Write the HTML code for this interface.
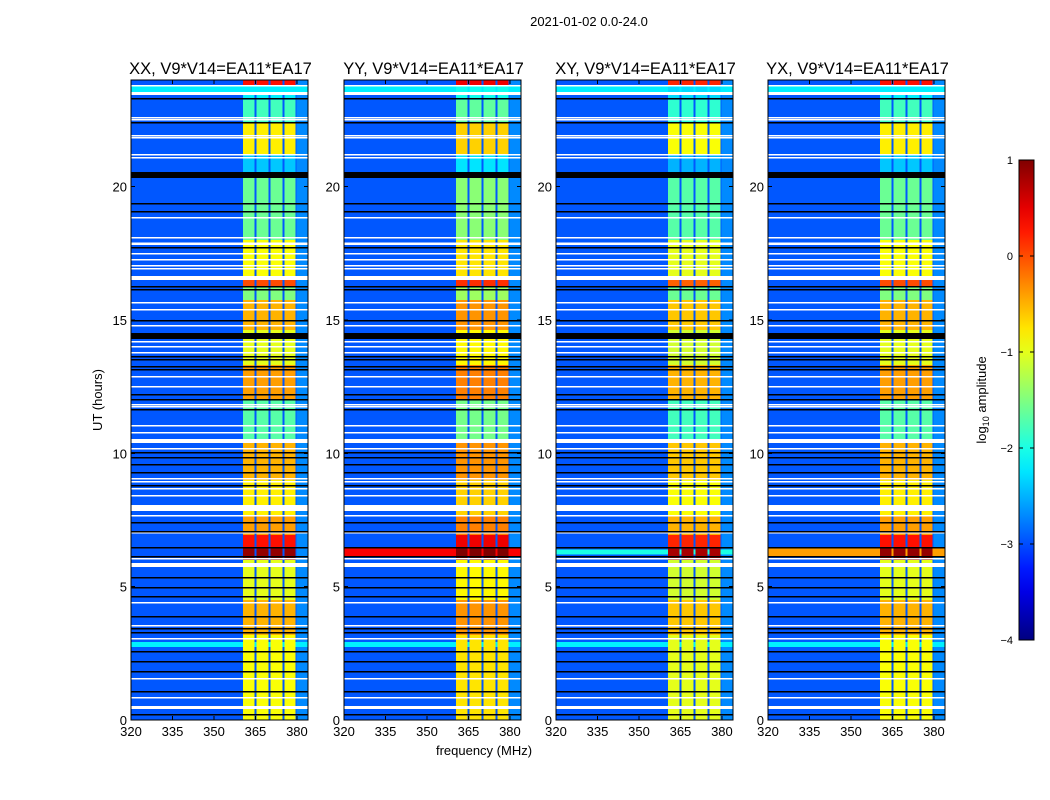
<!DOCTYPE html>
<html><head><meta charset="utf-8">
<style>
body{margin:0;background:#fff;font-family:"Liberation Sans",sans-serif;}
#wrap{position:relative;width:1050px;height:800px;overflow:hidden;}
</style></head>
<body>
<div id="wrap">
<svg id="svg" width="1050" height="800" xmlns="http://www.w3.org/2000/svg" font-family="Liberation Sans, sans-serif" shape-rendering="crispEdges"></svg>
</div>
<script>
const panelTitles=["XX, V9*V14=EA11*EA17","YY, V9*V14=EA11*EA17","XY, V9*V14=EA11*EA17","YX, V9*V14=EA11*EA17"];
const panelLefts=[131,344,556,768];
const panelOffset=[0,0.15,-0.1,0];
const freqTicks=[320,335,350,365,380];
const timeTicks=[0,5,10,15,20];
const cbTicks=[1,0,-1,-2,-3,-4];
const bandEdges=[360.5,365.0,370.1,375.2,379.9];
const background=-2.95;
const segStart=[23.77,23.25,22.42,21.19,20.55,18,16.65,16.24,15.75,14.62,13.31,12,10.5,9,7.69,6.94,6.45,6,4.5,3.19,0];
const segEnd=[24,23.77,23.25,22.42,21.19,20.55,18,16.65,16.24,15.75,14.62,13.31,12,10.5,9,7.69,6.94,6.45,6,4.5,3.19];
const segLevel=[0.3,-2.2,-1.8,-0.8,-2.4,-1.6,-0.9,0.0,-1.5,-0.5,-1.0,-0.4,-1.7,-0.5,-0.8,-0.4,0.3,0.9,-1.0,-0.5,-0.9];
const broadStart=[[23.5,2.74],[23.5,2.74,6.1],[23.5,2.74,6.2],[23.5,2.74,6.15]];
const broadEnd=[[23.75,2.92],[23.75,2.92,6.45],[23.75,2.92,6.4],[23.75,2.92,6.45]];
const broadLevel=[[-2.2,-2.2],[-2.2,-2.2,0.4],[-2.2,-2.2,-2.0],[-2.2,-2.2,-0.4]];
const whiteThin=[23.77,22.57,22.5,21.9,21.82,21.19,21.07,18.82,18.07,17.47,17.25,17.02,16.91,15.64,15.37,14.77,14.17,13.99,13.76,12.86,12.49,11.81,11.74,11.02,10.76,10.16,9.04,8.92,8.66,8.4,7.65,7.01,6.04,4.39,3.52,3.04,1.54,0.82];
const whiteThickStart=[23.44,17.82,16.5,10.39,7.84,5.74,0.41];
const whiteThickEnd=[23.55,17.9,16.65,10.54,8.06,5.89,0.52];
const blackThin=[23.29,22.39,19.35,19.05,17.7,16.24,16.12,14.96,13.61,13.5,13.24,13.12,12.19,12.0,11.62,10.01,9.82,9.56,9.26,8.77,7.39,7.05,6.45,6.11,5.32,4.95,4.61,3.86,3.41,3.26,2.55,2.17,1.8,1.05,0.19];
const blackThickStart=[20.33,14.29];
const blackThickEnd=[20.55,14.51];

const NS="http://www.w3.org/2000/svg";
const svg=document.getElementById('svg');
const PW=177,PT=80,PB=720,F0=320,F1=384,T0=0,T1=24;
function fx(f,left){return left+(f-F0)/(F1-F0)*PW;}
function ty(t){return PB-(t-T0)/(T1-T0)*(PB-PT);}
function jet(v){let x=(v+4)/5;x=Math.max(0,Math.min(1,x));
 const c=(a)=>Math.round(255*Math.max(0,Math.min(1,a)));
 return `rgb(${c(1.5-Math.abs(4*x-3))},${c(1.5-Math.abs(4*x-2))},${c(1.5-Math.abs(4*x-1))})`;}
function el(tag,attrs,parent){const e=document.createElementNS(NS,tag);for(const k in attrs)e.setAttribute(k,attrs[k]);(parent||svg).appendChild(e);return e;}
function txt(s,attrs,parent){const e=el('text',attrs,parent);e.textContent=s;return e;}

const sup=txt('2021-01-02 0.0-24.0',{x:589,y:26,'font-size':13,'text-anchor':'middle'});



panelLefts.forEach((L,p)=>{
 const g=el('g',{});
 
 
 el('rect',{x:L,y:PT,width:PW,height:PB-PT,fill:jet(background)},g);
 el('rect',{x:fx(bandEdges[4],L),y:PT,width:L+PW-fx(bandEdges[4],L),height:PB-PT,fill:jet(-2.7)},g);
 broadStart[p].forEach((s,i)=>{
  const r=el('rect',{x:L,y:ty(broadEnd[p][i]),width:PW,height:ty(s)-ty(broadEnd[p][i]),fill:jet(broadLevel[p][i])},g);
  
  
 });
 segStart.forEach((s,i)=>{
  for(let b=0;b<4;b++){
   const x0=fx(bandEdges[b],L)+(b?1:0),x1=fx(bandEdges[b+1],L)-1;
   const r=el('rect',{x:x0,y:ty(segEnd[i]),width:x1-x0,height:ty(s)-ty(segEnd[i]),fill:jet(segLevel[i]+panelOffset[p])},g);
   
   
  }
 });
 whiteThin.forEach(t=>{const r=el('rect',{x:L,y:ty(t)-1,width:PW,height:1.5,fill:'#fff'},g);
  });
 whiteThickStart.forEach((s,i)=>{const r=el('rect',{x:L,y:ty(whiteThickEnd[i]),width:PW,height:ty(s)-ty(whiteThickEnd[i]),fill:'#fff'},g);
  });
 blackThin.forEach(t=>{const r=el('rect',{x:L,y:ty(t)-1,width:PW,height:1.5,fill:'#000'},g);
  });
 blackThickStart.forEach((s,i)=>{const r=el('rect',{x:L,y:ty(blackThickEnd[i]),width:PW,height:ty(s)-ty(blackThickEnd[i]),fill:'#000'},g);
  });
 el('rect',{x:L,y:PT,width:PW,height:PB-PT,fill:'none',stroke:'#000','stroke-width':1},g);
 freqTicks.forEach(f=>{const x=fx(f,L);
  el('line',{x1:x,y1:PB,x2:x,y2:PB-4,stroke:'#000'},g);el('line',{x1:x,y1:PT,x2:x,y2:PT+4,stroke:'#000'},g);
  const t=txt(f,{x:x,y:PB+16,'font-size':13,'text-anchor':'middle'},g);
  });
 timeTicks.forEach(v=>{const y=ty(v);
  el('line',{x1:L,y1:y,x2:L+4,y2:y,stroke:'#000'},g);el('line',{x1:L+PW,y1:y,x2:L+PW-4,y2:y,stroke:'#000'},g);
  const t=txt(v,{x:L-4,y:y+5,'font-size':13,'text-anchor':'end'},g);
  });
 const tt=txt(panelTitles[p],{x:L+PW/2+1,y:74,'font-size':16.5,'text-anchor':'middle'},g);
 
});
const xl=txt('frequency (MHz)',{x:484,y:755,'font-size':13,'text-anchor':'middle'});

const yl=txt('UT (hours)',{x:0,y:0,'font-size':13,'text-anchor':'middle',transform:'translate(102,400) rotate(-90)'});


const defs=el('defs',{});
const grad=el('linearGradient',{id:'jet',x1:0,y1:1,x2:0,y2:0},defs);
for(let i=0;i<=20;i++){el('stop',{offset:i/20,'stop-color':jet(-4+5*i/20)},grad);}
const CB0=160,CB1=640;
const cb=el('rect',{x:1019,y:CB0,width:15,height:CB1-CB0,fill:'url(#jet)',stroke:'#000'});

cbTicks.forEach(v=>{const y=CB1-(v+4)/5*(CB1-CB0);
 el('line',{x1:1019,y1:y,x2:1023,y2:y,stroke:'#000'});el('line',{x1:1034,y1:y,x2:1030,y2:y,stroke:'#000'});
 const t=txt(v<0?'\u2212'+(-v):String(v),{x:1013,y:y+4,'font-size':11,'text-anchor':'end'});
 });
const cl=el('text',{x:0,y:0,'font-size':13,'text-anchor':'middle',transform:'translate(986,400) rotate(-90)'});
cl.innerHTML='log<tspan font-size="9" dy="3">10</tspan><tspan dy="-3"> amplitude</tspan>';

</script>
</body></html>
